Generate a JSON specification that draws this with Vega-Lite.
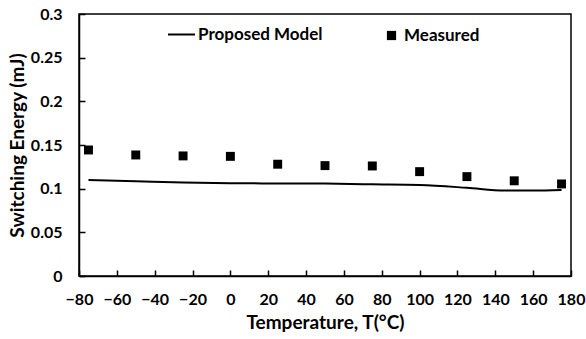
{
  "$schema": "https://vega.github.io/schema/vega-lite/v6.json",
  "width": 492,
  "height": 262,
  "autosize": {"type": "none"},
  "padding": {"left": 79, "top": 14, "right": 15, "bottom": 63},
  "background": "white",
  "config": {
    "view": {"stroke": "black", "strokeWidth": 1.5},
    "font": "Lato",
    "axis": {
      "grid": false,
      "domainColor": "black",
      "domainWidth": 1.5,
      "tickColor": "black",
      "tickWidth": 1.5,
      "tickSize": -6,
      "labelFont": "Lato",
      "labelFontWeight": "bold",
      "labelFontSize": 16,
      "labelColor": "black",
      "labelOverlap": false,
      "labelFlush": false,
      "titleFont": "Lato",
      "titleFontWeight": "bold",
      "titleFontSize": 19,
      "titleColor": "black"
    },
    "legend": {
      "labelFont": "Lato",
      "labelFontWeight": "bold",
      "labelFontSize": 17,
      "labelColor": "black"
    }
  },
  "datasets": {
    "model": [
      {"T": -75, "E": 0.110, "series": "Proposed Model"},
      {"T": -50, "E": 0.1085, "series": "Proposed Model"},
      {"T": -25, "E": 0.107, "series": "Proposed Model"},
      {"T": 0, "E": 0.1062, "series": "Proposed Model"},
      {"T": 25, "E": 0.106, "series": "Proposed Model"},
      {"T": 50, "E": 0.1058, "series": "Proposed Model"},
      {"T": 75, "E": 0.105, "series": "Proposed Model"},
      {"T": 100, "E": 0.1042, "series": "Proposed Model"},
      {"T": 125, "E": 0.101, "series": "Proposed Model"},
      {"T": 145, "E": 0.0978, "series": "Proposed Model"},
      {"T": 160, "E": 0.0978, "series": "Proposed Model"},
      {"T": 175, "E": 0.0985, "series": "Proposed Model"}
    ],
    "measured": [
      {"T": -75, "E": 0.1443, "series": "Measured"},
      {"T": -50, "E": 0.1386, "series": "Measured"},
      {"T": -25, "E": 0.1375, "series": "Measured"},
      {"T": 0, "E": 0.137, "series": "Measured"},
      {"T": 25, "E": 0.128, "series": "Measured"},
      {"T": 50, "E": 0.1264, "series": "Measured"},
      {"T": 75, "E": 0.126, "series": "Measured"},
      {"T": 100, "E": 0.1195, "series": "Measured"},
      {"T": 125, "E": 0.1138, "series": "Measured"},
      {"T": 150, "E": 0.109, "series": "Measured"},
      {"T": 175, "E": 0.1054, "series": "Measured"}
    ]
  },
  "encoding": {
    "x": {
      "field": "T",
      "type": "quantitative",
      "scale": {"domain": [-80, 180], "nice": false, "zero": false},
      "axis": {"values": [-80,-60,-40,-20,0,20,40,60,80,100,120,140,160,180], "format": "d", "title": "Temperature, T(°C)", "labelPadding": 21, "titlePadding": 6}
    },
    "y": {
      "field": "E",
      "type": "quantitative",
      "scale": {"domain": [0, 0.3], "nice": false},
      "axis": {"values": [0,0.05,0.1,0.15,0.2,0.25,0.3], "format": "~r", "title": "Switching Energy (mJ)", "labelPadding": 23, "titlePadding": 3}
    }
  },
  "layer": [
    {
      "data": {"name": "model"},
      "mark": {"type": "line", "strokeWidth": 2, "interpolate": "monotone"},
      "encoding": {
        "color": {
          "field": "series",
          "type": "nominal",
          "scale": {"domain": ["Proposed Model"], "range": ["black"]},
          "legend": {"title": null, "orient": "none", "legendX": 88, "legendY": 6, "symbolType": "stroke", "symbolSize": 729, "symbolStrokeWidth": 2, "labelOffset": 2}
        }
      }
    },
    {
      "data": {"name": "measured"},
      "mark": {"type": "point", "shape": "square", "filled": true, "color": "black", "size": 80, "opacity": 1},
      "encoding": {
        "shape": {
          "field": "series",
          "type": "nominal",
          "scale": {"domain": ["Measured"], "range": ["square"]},
          "legend": {"title": null, "orient": "none", "legendX": 304, "legendY": 13, "symbolFillColor": "black", "symbolStrokeColor": "black", "symbolSize": 85, "symbolOpacity": 1, "labelOffset": 4}
        }
      }
    }
  ]
}
